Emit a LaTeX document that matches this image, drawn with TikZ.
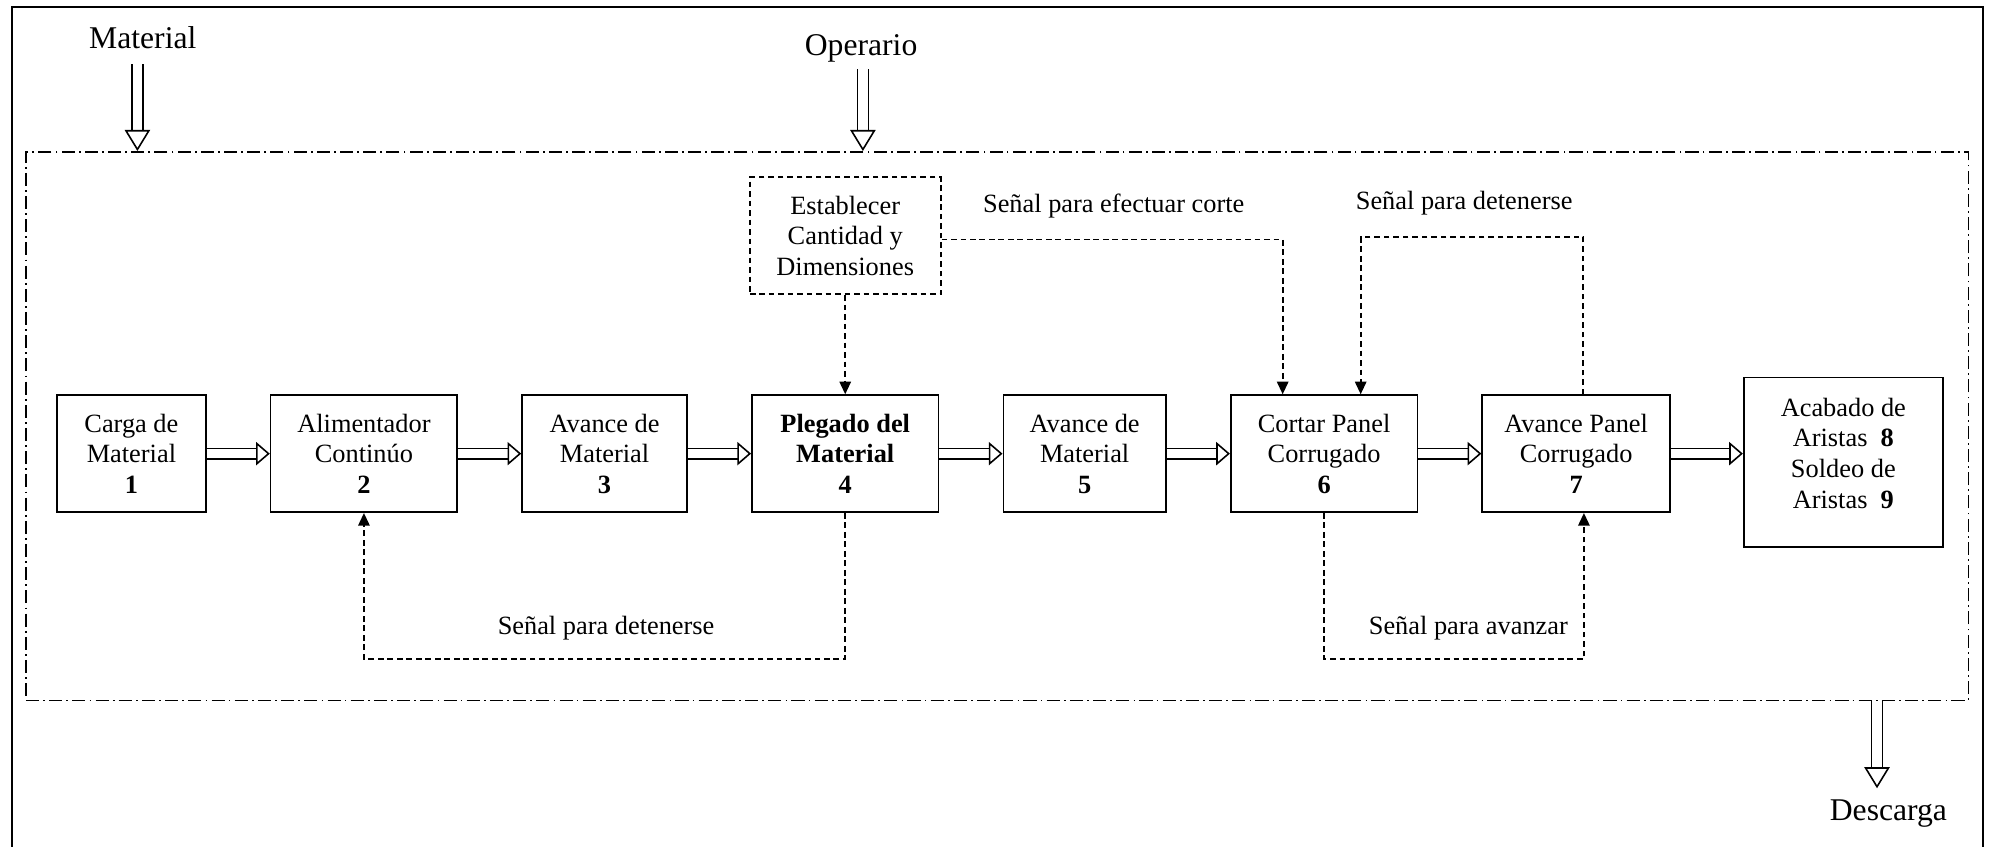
\documentclass[tikz,border=0pt]{standalone}
\usepackage{fontspec}
\setmainfont{Liberation Serif}
\usetikzlibrary{arrows.meta,calc,positioning}

\begin{document}
\begin{tikzpicture}[
    font=\fontsize{12.5}{14.5}\selectfont,
    node distance=1.052cm,
    blk/.style={
        draw,
        line width=0.8pt,
        minimum height=1.95cm,
        align=center,
        inner sep=2pt
    },
    setbox/.style={
        draw,
        line width=0.85pt,
        dash pattern=on 2.7pt off 1.8pt,
        minimum width=3.18cm,
        minimum height=1.95cm,
        align=center
    },
    planta/.style={
        draw,
        line width=0.8pt,
        dash pattern=on 6.2pt off 2pt on 0.8pt off 2pt,
        minimum width=32.37cm,
        minimum height=9.14cm
    },
    lbl/.style={font=\fontsize{15}{18}\selectfont},
    sig/.style={line width=0.85pt, dash pattern=on 2.7pt off 1.8pt, -{Triangle[length=6pt,width=5.4pt]}},
    flow/.style={double, double distance=4.2pt, line width=0.75pt, -{Triangle[open,length=6.5pt,width=11pt,line width'=0.75pt]}},
    big/.style={double, double distance=4.4pt, line width=0.75pt, -{Triangle[open,length=10pt,width=12pt,line width'=0.75pt]}}
]
    \useasboundingbox (0,0) rectangle (33.18,14.1);
    %% Marco
    \draw[line width=0.9pt] (0.2,-0.5) rectangle (33.05,13.985);
    \node[planta] (area) at (16.617,6.999) {};

    %% Bloques del proceso
    \node[blk, minimum width=2.48cm] (carga) at (2.19,6.54) {Carga de\\Material\\\textbf{1}};
    \node[blk, minimum width=3.11cm, right=of carga] (alim) {Alimentador\\Continúo\\\textbf{2}};
    \node[blk, minimum width=2.75cm, right=of alim] (avmat) {Avance de\\Material\\\textbf{3}};
    \node[blk, minimum width=3.11cm, right=of avmat] (pleg) {\textbf{Plegado del}\\\textbf{Material}\\\textbf{4}};
    \node[blk, minimum width=2.71cm, right=of pleg] (avmat2) {Avance de\\Material\\\textbf{5}};
    \node[blk, minimum width=3.11cm, right=of avmat2] (cortar) {Cortar Panel\\Corrugado\\\textbf{6}};
    \node[blk, minimum width=3.13cm, right=of cortar] (avpan) {Avance Panel\\Corrugado\\\textbf{7}};
    \node[blk, minimum width=3.32cm, minimum height=2.82cm, text depth=0.3cm, right=1.2cm of avpan, yshift=-0.14cm] (acab) {Acabado de\\Aristas\ \ \textbf{8}\\Soldeo de\\Aristas\ \ \textbf{9}};
    \node[setbox, above=1.65cm of pleg] (estab) {Establecer\\Cantidad y\\Dimensiones};

    %% Entradas y salida
    \node[lbl] (material) at (2.38,13.47) {Material};
    \node[lbl] (operario) at (14.35,13.3) {Operario};
    \node[lbl] (descarga) at (31.47,0.55) {Descarga};
    \draw[big, shorten <=0.13cm] ([xshift=-0.09cm]material.south) -- ([xshift=-0.09cm]material.south |- area.north);
    \draw[big] ([xshift=0.03cm]operario.south) -- ([xshift=0.03cm]operario.south |- area.north);
    \draw[big, shorten >=0.06cm] (area.south -| 31.28,0) -- (descarga.north -| 31.28,0);

    %% Flujo de material
    \draw[flow] (carga) -- (alim);
    \draw[flow] (alim) -- (avmat);
    \draw[flow] (avmat) -- (pleg);
    \draw[flow] (pleg) -- (avmat2);
    \draw[flow] (avmat2) -- (cortar);
    \draw[flow] (cortar) -- (avpan);
    \draw[flow] (avpan.east) -- (acab.west |- avpan.east);

    %% Señales
    \draw[sig] (estab) -- (pleg);
    \draw[sig] ([yshift=-0.06cm]estab.east) -| ([xshift=-0.69cm]cortar.north);
    \draw[sig] ([xshift=0.12cm]avpan.north) -- ([xshift=0.12cm,yshift=-0.02cm]avpan.north |- estab.east) -| ([xshift=0.61cm]cortar.north);
    \draw[sig] (pleg.south) -- ++(0,-2.43) -| (alim.south);
    \draw[sig] (cortar.south) -- ++(0,-2.43) -| ([xshift=0.13cm]avpan.south);
    \node (corte) at (18.56,10.67) {Señal para efectuar corte};
    \node (detener) at (24.4,10.71) {Señal para detenerse};
    \node (detener2) at (10.1,3.64) {Señal para detenerse};
    \node (avanzar) at (24.47,3.64) {Señal para avanzar};
\end{tikzpicture}
\end{document}
